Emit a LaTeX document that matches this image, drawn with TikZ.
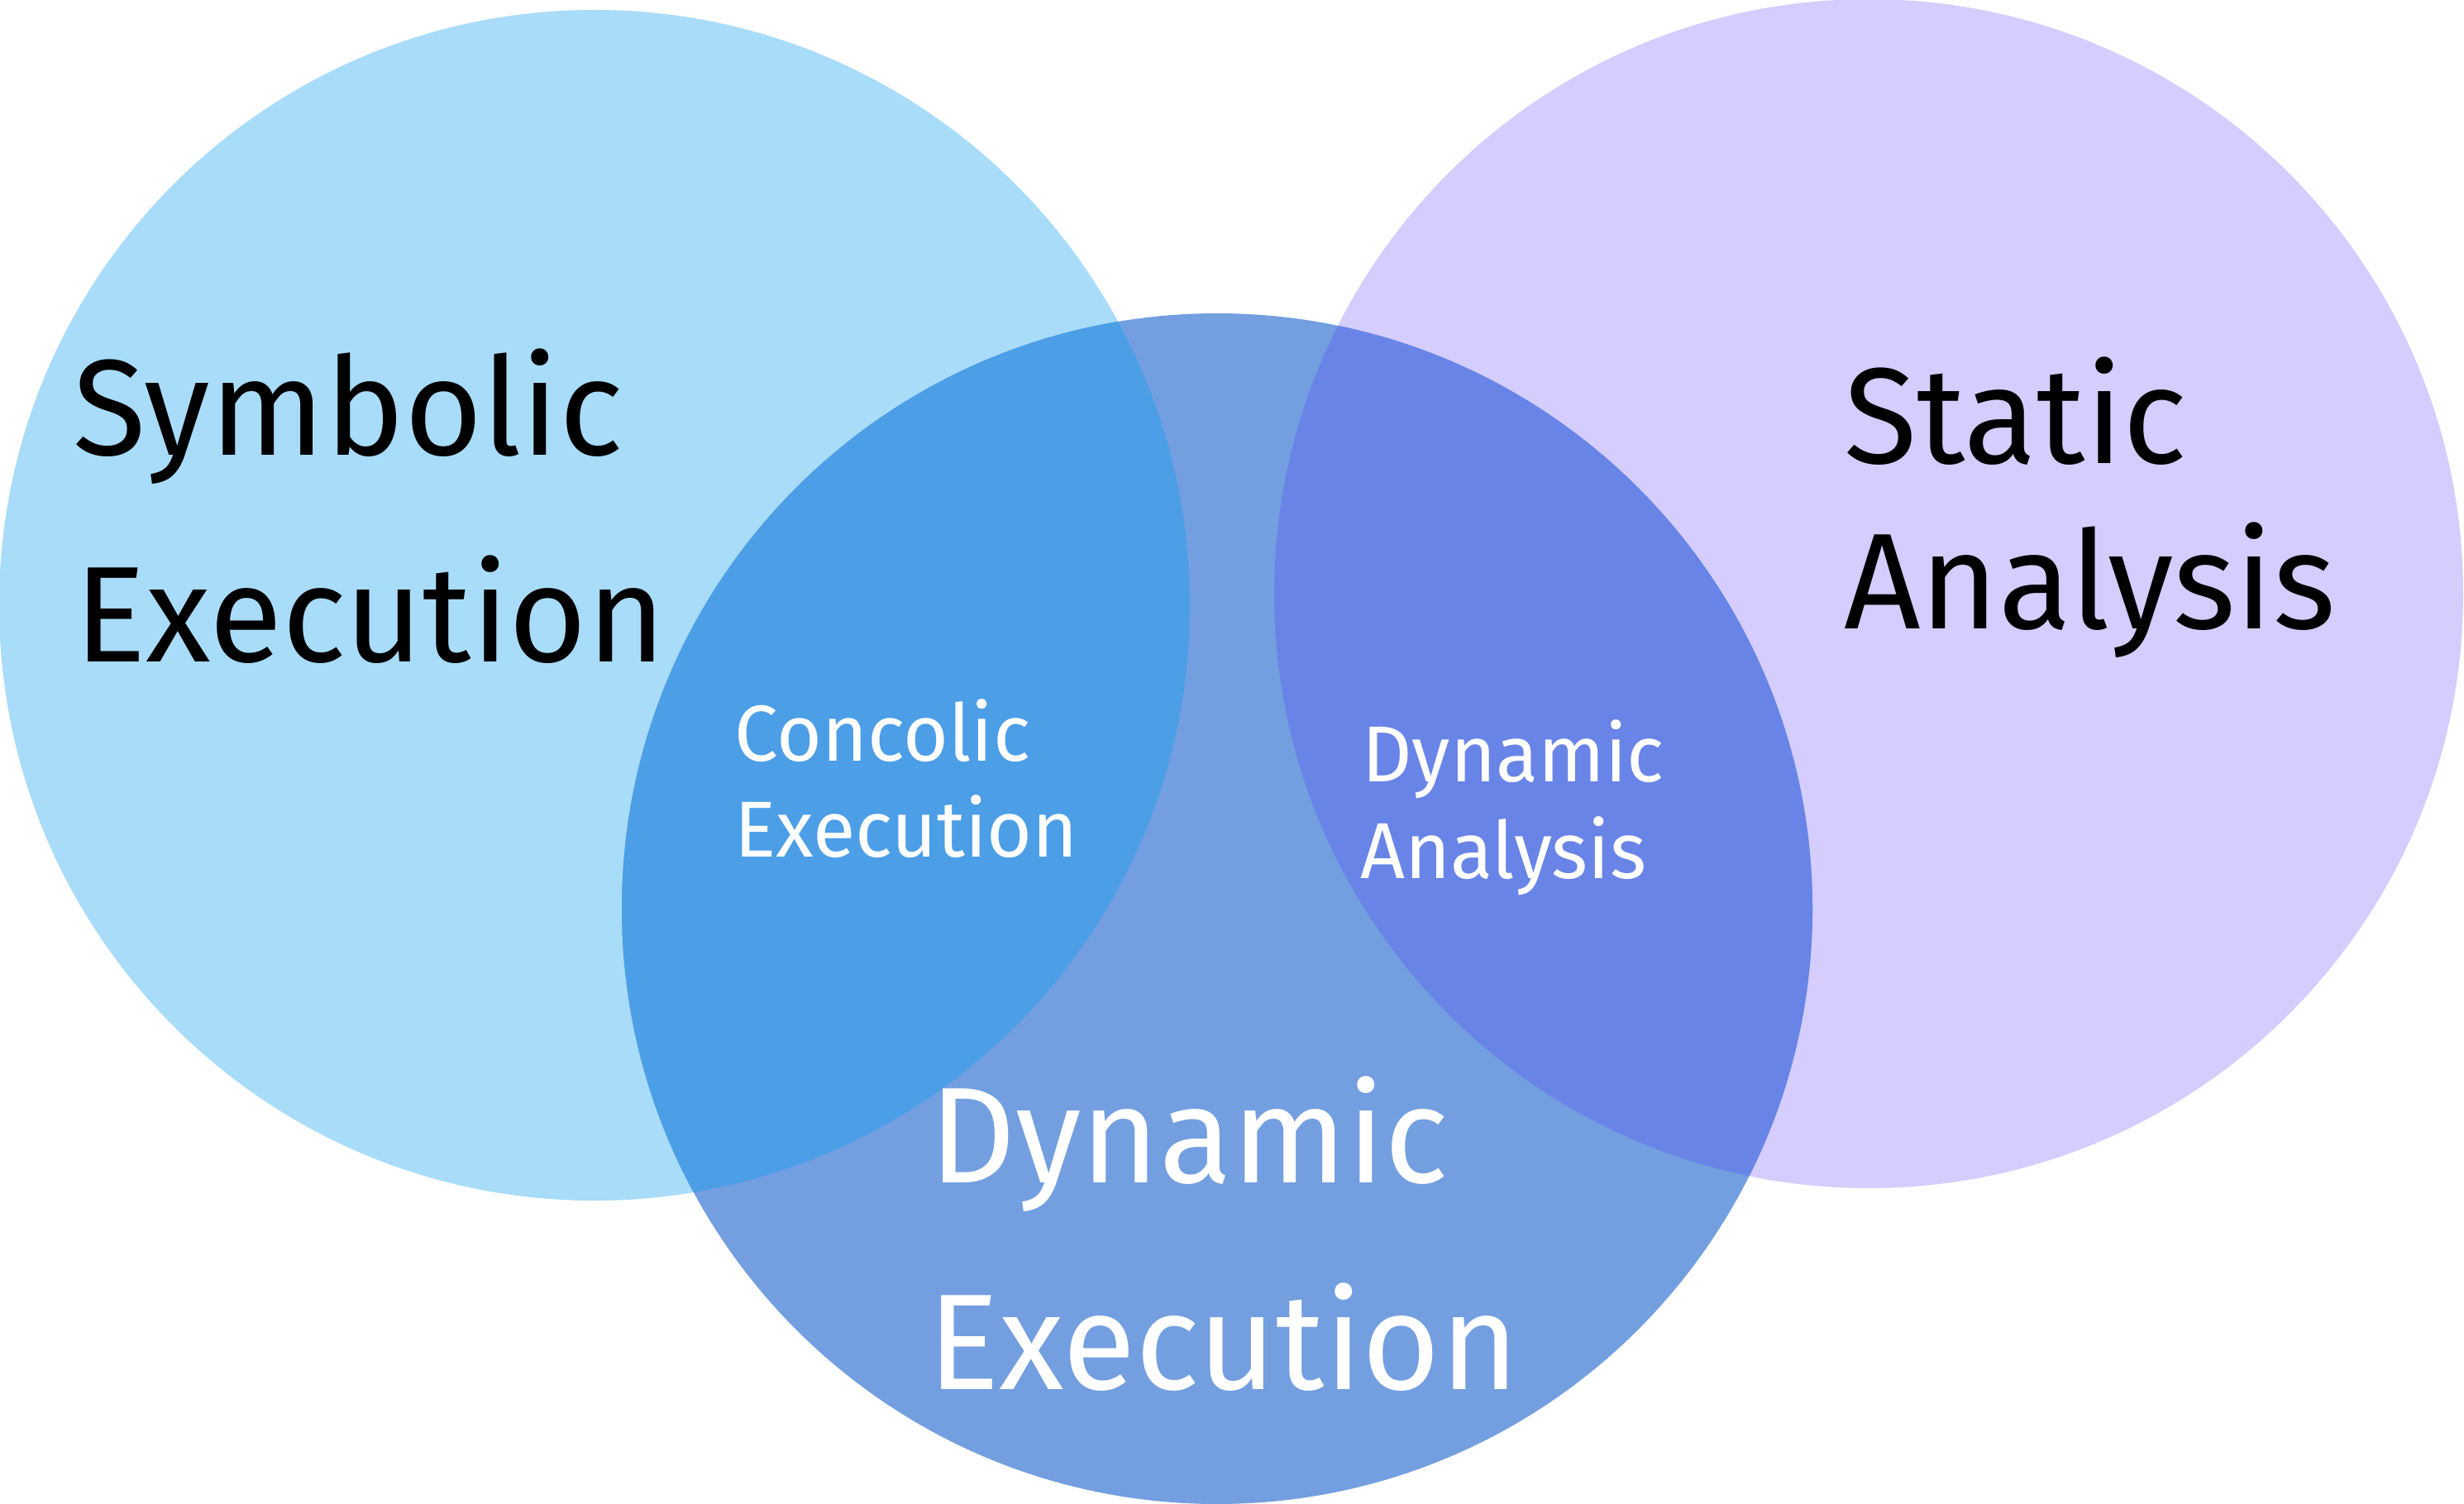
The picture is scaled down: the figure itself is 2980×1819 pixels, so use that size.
\documentclass[tikz,border=0pt]{standalone}
\usepackage{fontspec}
\setmainfont{Fira Sans}[FakeStretch=0.98]
\definecolor{symblue}{RGB}{168,220,249}
\definecolor{statlav}{RGB}{212,205,254}
\definecolor{dynblue}{RGB}{115,159,224}
\definecolor{concblue}{RGB}{76,158,231}
\definecolor{dynana}{RGB}{105,132,231}
\tikzset{
  bigtxt/.style={anchor=base west, inner sep=0pt, font=\fontsize{165}{165}\selectfont},
  smalltxt/.style={anchor=base west, inner sep=0pt, font=\fontsize{96}{96}\selectfont, text=white},
}
\begin{document}
\begin{tikzpicture}[x=1pt,y=-1pt]
\useasboundingbox (0,0) rectangle (2980,1819);
% circles
\fill[symblue] (719,732) circle [radius=720pt];
\fill[statlav] (2260,718) circle [radius=719pt];
\fill[dynblue] (1472,1099) circle [radius=720pt];
\begin{scope}
  \clip (1472,1099) circle [radius=720pt];
  \fill[concblue] (719,732) circle [radius=720pt];
  \fill[dynana] (2260,718) circle [radius=719pt];
\end{scope}
% labels
\node[bigtxt] (sym1) at (88,550) {Symbolic};
\node[bigtxt] (sym2) at (90,800) {Execution};
\node[bigtxt] (sta1) at (2230,560) {Static};
\node[bigtxt] (sta2) at (2230,760) {Analysis};
\node[smalltxt] (con1) at (888,920) {Concolic};
\node[smalltxt] (con2) at (888,1036) {Execution};
\node[smalltxt] (dan1) at (1647,945) {Dynamic};
\node[smalltxt] (dan2) at (1645,1062) {Analysis};
\node[bigtxt, text=white] (dex1) at (1124,1430) {Dynamic};
\node[bigtxt, text=white] (dex2) at (1122,1680) {Execution};
\end{tikzpicture}
\end{document}
